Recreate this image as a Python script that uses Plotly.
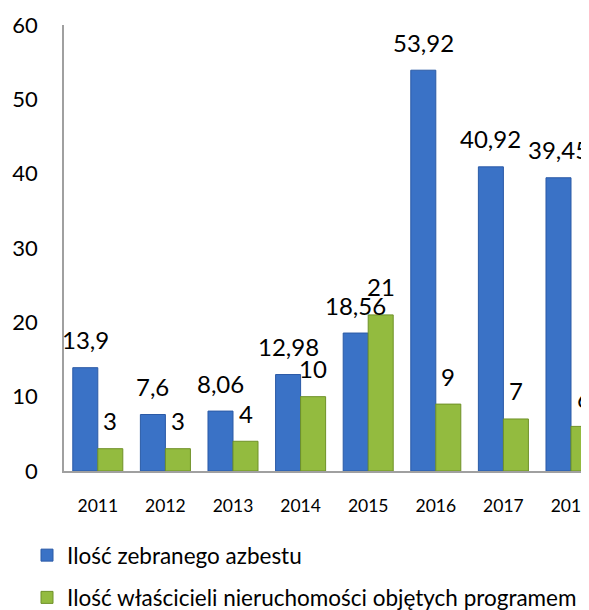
import plotly.graph_objects as go

years = ["2011", "2012", "2013", "2014", "2015", "2016", "2017", "2018"]
azbest = [13.9, 7.6, 8.06, 12.98, 18.56, 53.92, 40.92, 39.45]
wlasciciele = [3, 3, 4, 10, 21, 9, 7, 6]
azbest_labels = ["13,9", "7,6", "8,06", "12,98", "18,56", "53,92", "40,92", "39,45"]
wl_labels = [str(v) for v in wlasciciele]
y_ticks = [0, 10, 20, 30, 40, 50, 60]

name1 = "Ilość zebranego azbestu"
name2 = "Ilość właścicieli nieruchomości objętych programem"

FONT = "Lato"
blue = "#3A72C6"
blue_edge = "#2B5AA6"
green = "#93BB3F"
green_edge = "#6F9128"

# page has an 8px body margin; compensate
OFF = 8
L, T, B = 64 - OFF, 25 - OFF, 139 + OFF
PW, PH = 589 - L, 610 - T - B

fig = go.Figure()
fig.add_trace(go.Bar(x=years, y=azbest, name=name1, legendgroup="a",
                     marker=dict(color=blue, line=dict(color=blue_edge, width=1))))
fig.add_trace(go.Bar(x=years, y=wlasciciele, name=name2, legendgroup="b",
                     marker=dict(color=green, line=dict(color=green_edge, width=1))))

for i, (v, t) in enumerate(zip(azbest, azbest_labels)):
    fig.add_annotation(x=i, y=v, text=t, showarrow=False, xshift=-12.6, yshift=28,
                       yanchor="middle", font=dict(family=FONT, size=24, color="black"))
for i, (v, t) in enumerate(zip(wlasciciele, wl_labels)):
    fig.add_annotation(x=i, y=v, text=t, showarrow=False, xshift=12.6, yshift=28,
                       yanchor="middle", font=dict(family=FONT, size=24, color="black"))

fig.update_layout(
    width=589, height=610,
    margin=dict(l=L, r=0, t=T, b=B, autoexpand=False),
    paper_bgcolor="white", plot_bgcolor="white",
    barmode="group", bargap=0.26, bargroupgap=0,
    font=dict(family=FONT, color="black"),
    showlegend=True,
    legend=dict(orientation="v",
                x=(19 - L) / PW, y=-(534 - OFF - (T + PH)) / PH, xanchor="left", yanchor="top",
                font=dict(family=FONT, size=22.5, color="black"),
                tracegroupgap=10, itemwidth=30, bgcolor="rgba(0,0,0,0)"),
)
fig.update_xaxes(type="category", range=[-0.5, -0.5 + PW / 67.6], showgrid=False,
                 showline=True, linecolor="#A0A0A0", linewidth=1.5,
                 ticks="", tickangle=0, tickfont=dict(family=FONT, size=17.5, color="black"),
                 ticklabelstandoff=18, fixedrange=True)
fig.update_yaxes(range=[0, 60], tickvals=y_ticks, showgrid=False, zeroline=False,
                 showline=True, linecolor="#A0A0A0", linewidth=1.5,
                 ticks="", tickfont=dict(family=FONT, size=22, color="black"),
                 ticklabelstandoff=20, fixedrange=True)

fig.write_html("out.html")
